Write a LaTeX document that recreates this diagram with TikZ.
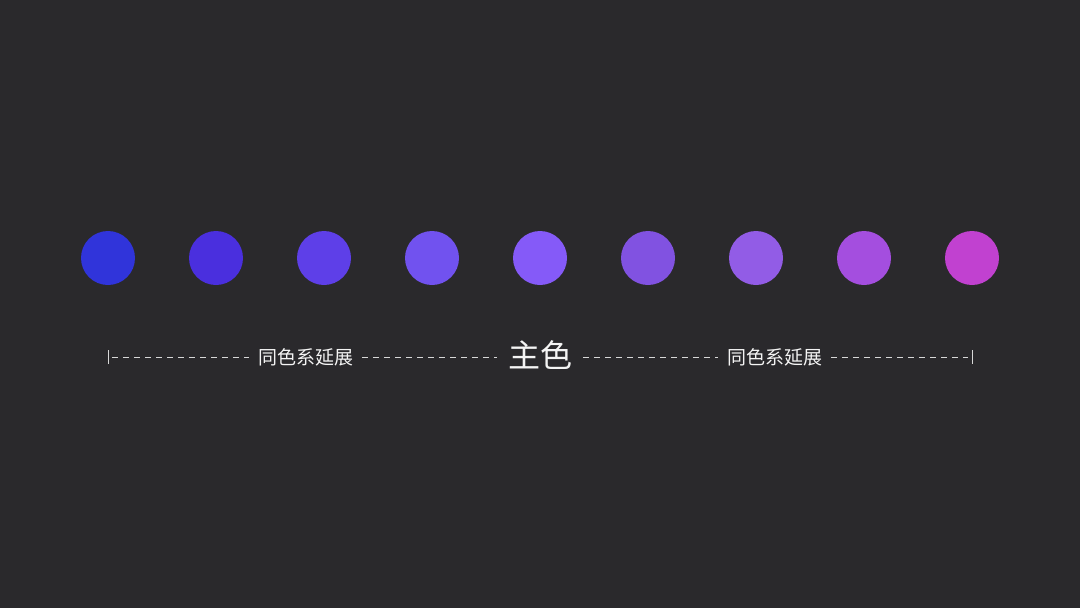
\documentclass[tikz,border=0pt]{standalone}
\usepackage{fontspec}
\newfontfamily\cjk{Noto Sans CJK SC}
\definecolor{bg}{HTML}{2A292C}
\definecolor{c1}{HTML}{3034DA}
\definecolor{c2}{HTML}{4A2FDE}
\definecolor{c3}{HTML}{5E3FE8}
\definecolor{c4}{HTML}{7152EF}
\definecolor{c5}{HTML}{855AF8}
\definecolor{c6}{HTML}{8152E1}
\definecolor{c7}{HTML}{925CE6}
\definecolor{c8}{HTML}{A44EDF}
\definecolor{c9}{HTML}{C141D0}
\definecolor{txt}{HTML}{F4F4F4}
\definecolor{dashc}{HTML}{D8D8D8}
\tikzset{
  dot/.style={circle, minimum size=54pt, inner sep=0pt, draw=none},
  sublabel/.style={text=txt, font=\cjk\fontsize{19}{22}\selectfont, inner xsep=0pt, inner ysep=0pt},
  mainlabel/.style={text=txt, font=\cjk\fontsize{32}{36}\selectfont, inner xsep=0pt, inner ysep=0pt},
  guide/.style={draw=dashc, line width=0.9pt, dash pattern=on 6pt off 5pt},
  endbar/.style={draw=dashc, line width=1pt}
}
\begin{document}
\begin{tikzpicture}[x=1pt,y=-1pt]
\fill[bg] (0,0) rectangle (1080,608);
\useasboundingbox (0,0) rectangle (1080,608);
\foreach \i/\c in {0/c1,1/c2,2/c3,3/c4,4/c5,5/c6,6/c7,7/c8,8/c9}{
  \node[dot, fill=\c] (d\i) at ({108+108*\i},258) {};
}
\coordinate (L) at (108,357);
\coordinate (R) at (972,357);
\node[sublabel] (t1) at (305.5,357) {同色系延展};
\node[mainlabel] (m) at (540,355) {主色};
\node[sublabel] (t2) at (774.5,357) {同色系延展};
\draw[endbar] ([yshift=-7pt]L) -- ([yshift=7pt]L);
\draw[endbar] ([yshift=-7pt]R) -- ([yshift=7pt]R);
\draw[guide] ([xshift=4pt]L) -- ([xshift=-9pt]t1.west |- L);
\draw[guide] ([xshift=9pt]t1.east |- L) -- ([xshift=-11pt]m.west |- L);
\draw[guide] ([xshift=11pt]m.east |- L) -- ([xshift=-9pt]t2.west |- L);
\draw[guide] ([xshift=9pt]t2.east |- R) -- ([xshift=-4pt]R);
\end{tikzpicture}
\end{document}
